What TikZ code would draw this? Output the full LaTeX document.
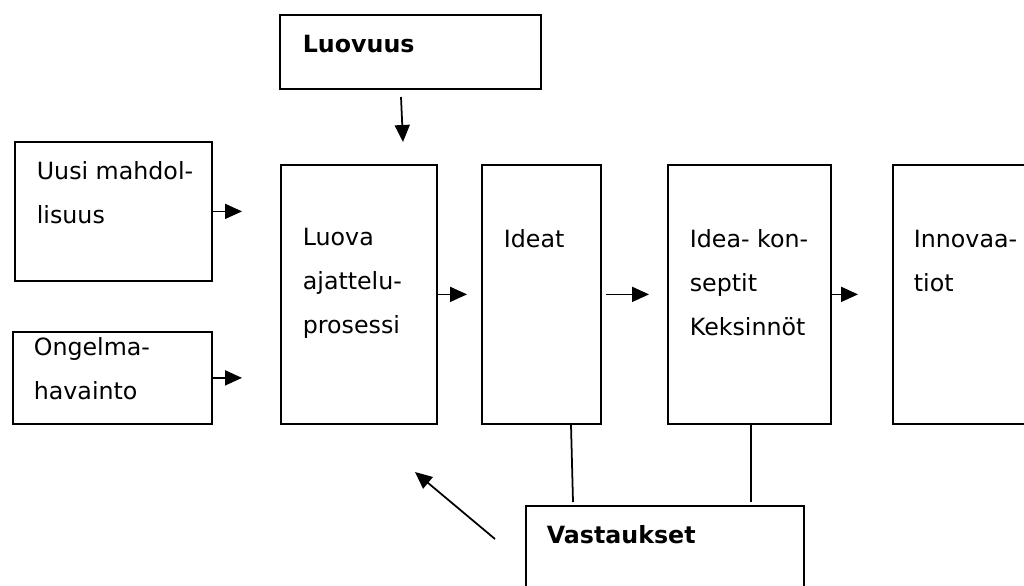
\documentclass[tikz,border=0pt]{standalone}
\usepackage{fontspec}
\setmainfont{DejaVu Sans}
\usetikzlibrary{arrows.meta}

\begin{document}
\begin{tikzpicture}[x=0.02cm,y=-0.02cm,line width=1pt,
 every node/.style={font=\fontsize{13.5pt}{25pt}\selectfont},
 blk/.style={draw,rectangle,anchor=north west,inner sep=0pt},
 txt/.style={anchor=base west,align=left,inner sep=0pt},
 arr/.style={-{Triangle[length=0.34cm,width=0.3cm]}}]
\useasboundingbox (0,0) rectangle (1024,585);
\clip (0,0) rectangle (1024,585);
\newcommand{\FKbox}[5]{\node[blk,minimum width=#4*0.02cm,minimum height=#5*0.02cm] (#1) at (#2,#3) {};}
% boxes
\FKbox{luovuus}{279}{14}{261}{74}
\FKbox{uusi}{14}{141}{197}{139}
\FKbox{ongelma}{12}{331}{199}{92}
\FKbox{luova}{280}{164}{156}{259}
\FKbox{ideat}{481}{164}{119}{259}
\FKbox{idea}{667}{164}{163}{259}
\FKbox{innov}{892}{164}{150}{259}
\FKbox{vast}{525}{505}{278}{100}
% texts (base = last line)
\node[txt,font=\fontsize{13.5pt}{25pt}\selectfont\bfseries] (t-luovuus) at (302,52) {Luovuus};
\node[txt] (t-uusi) at (36,223) {Uusi mahdol-\\lisuus};
\node[txt] (t-ongelma) at (33,399) {Ongelma-\\havainto};
\node[txt] (t-luova) at (302,333) {Luova\\ajattelu-\\prosessi};
\node[txt] (t-ideat) at (503,247) {Ideat};
\node[txt] (t-idea) at (689,335) {Idea- kon-\\septit\\Keksinnöt};
\node[txt] (t-innov) at (913,291) {Innovaa-\\tiot};
\node[txt,font=\fontsize{13.5pt}{25pt}\selectfont\bfseries] (t-vast) at (546,543) {Vastaukset};
% connectors
\coordinate (lv-a) at (401,97);\coordinate (lv-b) at (403,142);
\draw[arr] (lv-a)--(lv-b);
\draw[arr,shorten >=0.76cm] (uusi.east)--(uusi.east -| luova.west);
\draw[arr,shorten >=0.76cm] (ongelma.east)--(ongelma.east -| luova.west);
\draw[arr,shorten >=0.28cm] (luova.east)--(luova.east -| ideat.west);
\draw[arr,shorten <=0.08cm,shorten >=0.36cm] (ideat.east)--(ideat.east -| idea.west);
\draw[arr,shorten >=0.68cm] (idea.east)--(idea.east -| innov.west);
\coordinate (vs-a) at (573,502);\coordinate (vs-b) at (751,502);
\draw (ideat.south -| 571,0)--(vs-a);
\draw (idea.south -| vs-b)--(vs-b);
\coordinate (fb-a) at (495,539);\coordinate (fb-b) at (415,472);
\draw[arr] (fb-a)--(fb-b);
\end{tikzpicture}
\end{document}
